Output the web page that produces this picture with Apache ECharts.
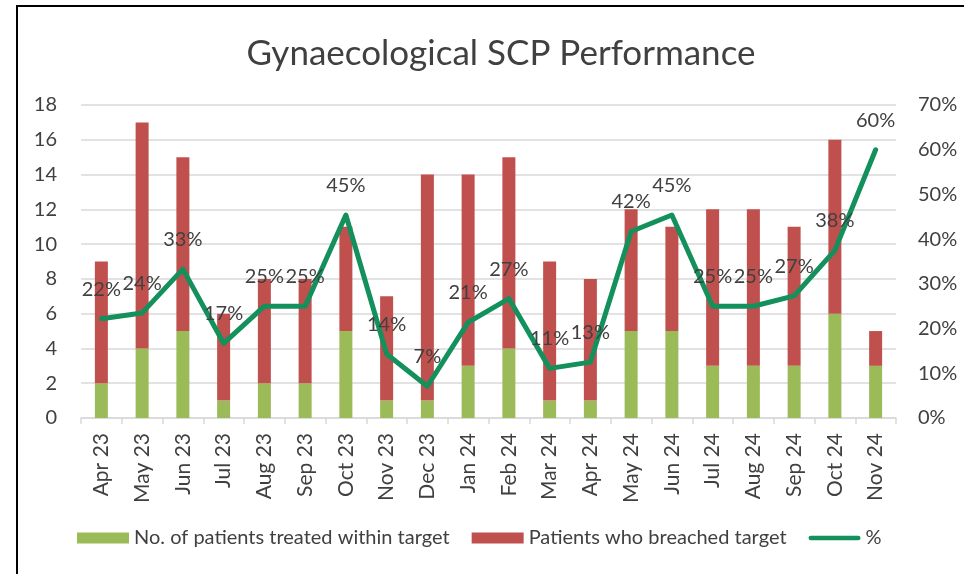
<!DOCTYPE html>
<html>
<head>
<meta charset="utf-8">
<script src="https://cdn.jsdelivr.net/npm/echarts@6/dist/echarts.min.js"></script>
<style>
  html, body { margin: 0; padding: 0; background: #fff; }
  #chart { width: 964px; height: 574px; }
  #frame {
    position: absolute; left: 16px; top: 5px; right: 0; bottom: 0;
    border-left: 2px solid #000; border-top: 2px solid #000;
    pointer-events: none;
  }
</style>
</head>
<body>
<div id="chart"></div>
<div id="frame"></div>
<script>
const months = ["Apr 23", "May 23", "Jun 23", "Jul 23", "Aug 23", "Sep 23", "Oct 23", "Nov 23",
  "Dec 23", "Jan 24", "Feb 24", "Mar 24", "Apr 24", "May 24", "Jun 24", "Jul 24",
  "Aug 24", "Sep 24", "Oct 24", "Nov 24"];
const withinTarget = [2, 4, 5, 1, 2, 2, 5, 1, 1, 3, 4, 1, 1, 5, 5, 3, 3, 3, 6, 3];
const breached = [7, 13, 10, 5, 6, 6, 6, 6, 13, 11, 11, 8, 7, 7, 6, 9, 9, 8, 10, 2];
const percent = [0.222, 0.235, 0.333, 0.167, 0.25, 0.25, 0.454, 0.143, 0.071, 0.214,
  0.267, 0.111, 0.125, 0.417, 0.454, 0.25, 0.25, 0.273, 0.375, 0.6];

const font = "Lato";
const textColor = "#404040";
const gridColor = "#d9d9d9";
const lineColor = "#13905c";

const chart = echarts.init(document.getElementById("chart"));
chart.setOption({
  animation: false,
  textStyle: { fontFamily: font, color: textColor },
  title: {
    text: "Gynaecological SCP Performance",
    left: 496,
    textAlign: "center",
    top: 31,
    textStyle: { fontFamily: font, fontSize: 35, fontWeight: "normal", color: textColor }
  },
  grid: { left: 81, right: 68, top: 105, bottom: 156 },
  legend: {
    top: 523,
    left: 72,
    itemWidth: 52,
    itemHeight: 11,
    itemGap: 22,
    textStyle: { fontFamily: font, fontSize: 20, color: textColor },
    data: [
      { name: "No. of patients treated within target", icon: "rect" },
      { name: "Patients who breached target", icon: "rect" },
      { name: "%", icon: "path://M2.5,0 h51 a2.5,2.5 0 0 1 0,5 h-51 a2.5,2.5 0 0 1 0,-5z" }
    ]
  },
  xAxis: {
    type: "category",
    data: months,
    axisLine: { lineStyle: { color: gridColor, width: 1.5 } },
    axisTick: { show: true, length: 6, lineStyle: { color: gridColor, width: 1.5 } },
    axisLabel: { rotate: 90, fontSize: 21, color: textColor, margin: 15, fontFamily: font }
  },
  yAxis: [
    {
      type: "value",
      min: 0, max: 18, interval: 2,
      axisLine: { show: false },
      axisTick: { show: false },
      axisLabel: { fontSize: 20, color: textColor, margin: 24, fontFamily: font },
      splitLine: { lineStyle: { color: gridColor, width: 1.5 } }
    },
    {
      type: "value",
      min: 0, max: 0.7, interval: 0.1,
      axisLine: { show: false },
      axisTick: { show: false },
      splitLine: { show: false },
      axisLabel: {
        fontSize: 20, color: textColor, margin: 22, fontFamily: font,
        formatter: v => Math.round(v * 100) + "%"
      }
    }
  ],
  series: [
    {
      name: "No. of patients treated within target",
      type: "bar",
      stack: "total",
      barWidth: 13,
      itemStyle: { color: "#9bbb59" },
      data: withinTarget
    },
    {
      name: "Patients who breached target",
      type: "bar",
      stack: "total",
      barWidth: 13,
      itemStyle: { color: "#c0504d" },
      data: breached
    },
    {
      name: "%",
      type: "line",
      yAxisIndex: 1,
      symbol: "circle",
      symbolSize: 1,
      showSymbol: true,
      z: 5,
      lineStyle: { color: lineColor, width: 5, cap: "round", join: "round" },
      itemStyle: { color: lineColor },
      label: {
        show: true,
        position: "top",
        distance: 19,
        fontSize: 20,
        color: textColor,
        fontFamily: font,
        formatter: p => Math.round(p.value * 100) + "%"
      },
      data: percent
    }
  ]
});
</script>
</body>
</html>
